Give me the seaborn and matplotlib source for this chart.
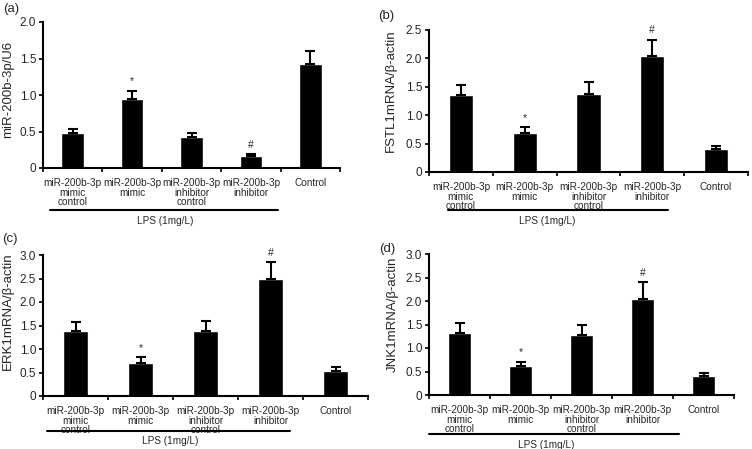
import numpy as np
import pandas as pd
import seaborn as sns
import matplotlib
matplotlib.use("Agg")
import matplotlib.pyplot as plt
import matplotlib.transforms as mtransforms

# data
groups = ['miR-200b-3p\nmimic\ncontrol', 'miR-200b-3p\nmimic',
          'miR-200b-3p\ninhibitor\ncontrol', 'miR-200b-3p\ninhibitor', 'Control']

mir_mean = [0.48, 0.94, 0.43, 0.16, 1.43]
mir_err = [0.06, 0.12, 0.055, 0.025, 0.17]

fstl1_mean = [1.35, 0.69, 1.38, 2.04, 0.40]
fstl1_err = [0.19, 0.10, 0.20, 0.29, 0.06]

erk1_mean = [1.38, 0.71, 1.39, 2.50, 0.53]
erk1_err = [0.19, 0.11, 0.21, 0.35, 0.09]

jnk1_mean = [1.32, 0.61, 1.28, 2.05, 0.40]
jnk1_err = [0.21, 0.10, 0.21, 0.35, 0.06]

marks = ['', '*', '', '#', '']

ylabels = ['miR-200b-3p/U6', 'FSTL1mRNA/\u03b2-actin',
           'ERK1mRNA/\u03b2-actin', 'JNK1mRNA/\u03b2-actin']
panel_tags = ['(a)', '(b)', '(c)', '(d)']
ymaxes = [2.0, 2.5, 3.0, 3.0]

sns.set_style('ticks')
plt.rcParams['font.family'] = ['Liberation Sans', 'DejaVu Sans']

W, H = 752, 449
fig = plt.figure(figsize=(W / 100, H / 100), dpi=100)

# axes boxes in pixels: x0, x1, ytop, ybottom
boxes = [(43, 340, 22, 168), (429, 748, 30, 172),
         (43, 368, 255, 396), (429, 734, 254, 395)]
# LPS line: x start/end (data), y (axes frac); text x, y
lps = [(-0.38, 3.46, -0.288, 1.55, -0.36),
       (-0.20, 3.25, -0.268, 1.35, -0.345),
       (-0.44, 3.30, -0.248, 1.45, -0.32),
       (-0.50, 3.60, -0.277, 1.42, -0.355)]
# y-label anchor (axes frac)
ylab_pos = [(-0.098, 0.54), (-0.10, 0.57), (-0.089, 0.605), (-0.10, 0.57)]
tag_pos = [(3, 9), (378, 16), (2, 239), (379, 249)]

means = [mir_mean, fstl1_mean, erk1_mean, jnk1_mean]
errs = [mir_err, fstl1_err, erk1_err, jnk1_err]

for i in range(4):
    x0, x1, yt, yb = boxes[i]
    ax = fig.add_axes([x0 / W, (H - yb) / H, (x1 - x0) / W, (yb - yt) / H])
    df = pd.DataFrame({'group': groups, 'value': means[i]})
    sns.barplot(data=df, x='group', y='value', color='black', width=0.38,
                errorbar=None, ax=ax, saturation=1)
    xs = np.arange(len(groups))
    ax.errorbar(xs, means[i], yerr=[np.zeros(5), errs[i]], fmt='none',
                ecolor='black', elinewidth=1.5, capsize=3.5, capthick=1.5)
    for x, m, e, s in zip(xs, means[i], errs[i], marks):
        if s:
            ax.annotate(s, (x, m + e), xytext=(0, 3), textcoords='offset points',
                        ha='center', va='bottom', fontsize=7.5)

    ax.set_xlim(-0.5, 4.5)
    ax.set_ylim(0, ymaxes[i])
    yt_vals = np.arange(0, ymaxes[i] + 0.01, 0.5)
    ax.set_yticks(yt_vals)
    ax.set_yticklabels(['0'] + ['%.1f' % v for v in yt_vals[1:]], fontsize=8.5)
    ax.set_xticks(np.arange(-0.5, 5, 1.0))
    ax.set_xticklabels([])
    ax.set_xticks(xs, groups, minor=True)
    ax.tick_params(axis='x', which='minor', length=0, pad=7, labelsize=7.2)
    for lab in ax.get_xticklabels(minor=True):
        lab.set_linespacing(0.98)
    ax.tick_params(axis='both', which='major', direction='out', length=3,
                   width=1.2, color='black')
    ax.tick_params(axis='y', pad=2)
    ax.set_xlabel('')
    ax.set_ylabel(ylabels[i], fontsize=9.5)
    ax.yaxis.set_label_coords(*ylab_pos[i])
    sns.despine(ax=ax)
    for sp in ['left', 'bottom']:
        ax.spines[sp].set_linewidth(1.5)
        ax.spines[sp].set_color('black')

    lx0, lx1, ly, tx, ty = lps[i]
    trans = mtransforms.blended_transform_factory(ax.transData, ax.transAxes)
    ax.plot([lx0, lx1], [ly, ly], color='black', lw=1.5, transform=trans,
            clip_on=False)
    ax.text(tx, ty, 'LPS (1mg/L)', transform=trans, ha='center', va='center',
            fontsize=7.2)

    px, py = tag_pos[i]
    fig.text(px / W, 1 - py / H, panel_tags[i], ha='left', va='center',
             fontsize=9.5)

fig.savefig('out.png', dpi=100)
